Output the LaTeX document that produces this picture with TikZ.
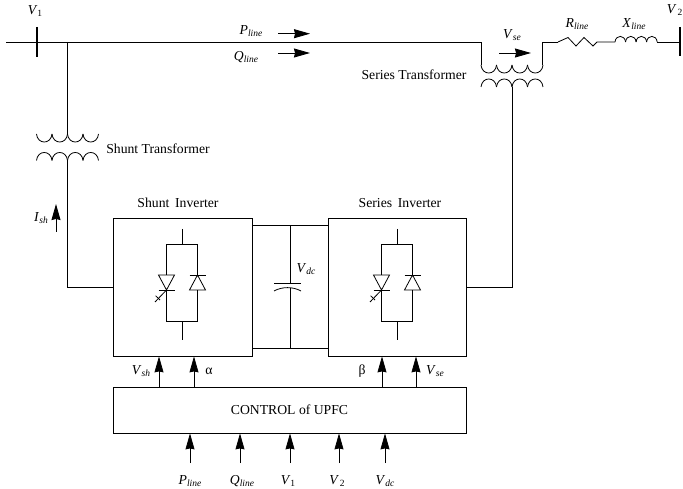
\documentclass[tikz,border=0pt]{standalone}
\usepackage{fontspec}
\setmainfont{Liberation Serif}
\usetikzlibrary{arrows.meta}
\newcommand{\subl}[2]{\textit{#1}\raisebox{-2.5pt}{\fontsize{9.5}{10}\selectfont\itshape #2}}
\begin{document}
\begin{tikzpicture}[
      x=1pt, y=-1pt,
      font=\fontsize{13.7}{15}\selectfont,
      wire/.style={line width=0.8pt},
      busbar/.style={line width=2pt},
      box/.style={draw, line width=0.8pt, inner sep=0pt},
      lbl/.style={inner sep=0pt},
      arr/.style={-{Stealth[length=16pt, width=9pt, inset=1pt]}, line width=0.8pt},
      coil/.pic={
        \foreach \i in {0,1,2,3}
          \draw[wire] (\i*15.5,0) .. controls +(1,10.7) and +(-1,10.7) .. +(15.5,0);
      },
      leg/.pic={
        \draw[wire] (0,-58) -- (0,-43);
        \draw[wire] (-15.5,-12) -- (-15.5,-43) -- (15.5,-43) -- (15.5,-12);
        \draw[wire] (-15.5,3) -- (-15.5,34) -- (15.5,34) -- (15.5,3);
        \draw[wire] (0,34) -- (0,53);
        \draw[wire] (-23.5,-12) -- (-7.5,-12) -- (-15.5,3) -- cycle;
        \draw[wire] (-23.5,3) -- (-7.5,3);
        \draw[wire] (7.5,-12) -- (23.5,-12);
        \draw[wire] (7.5,3) -- (23.5,3) -- (15.5,-12) -- cycle;
        \draw[wire] (-15.5,3) -- (-27,15);
        \draw[wire] (-26.4,8.7) -- (-22,13);
      }]
    \useasboundingbox (0,0) rectangle (683,489);
    % boxes
    \node[box, minimum width=139pt, minimum height=138pt] (shinv) at (182.5,287) {};
    \node[box, minimum width=138pt, minimum height=138pt] (seinv) at (397,287) {};
    \node[box, minimum width=353pt, minimum height=46pt] (ctrl) at (289.5,410) {CONTROL of UPFC};
    \pic at (182,287) {leg};
    \pic at (397,287) {leg};
    % line
    \coordinate (lstart) at (6,42);
    \coordinate (tap) at (67,42);
    \coordinate (sel) at (481,42);
    \coordinate (ser) at (542,42);
    \coordinate (rin) at (558,42);
    \coordinate (xin) at (615,42);
    \coordinate (xout) at (657,42);
    \coordinate (bus2) at (680,42);
    \draw[wire] (lstart) -- (sel) -- (481,65);
    \draw[wire] (542,65) -- (ser) -- (rin);
    \draw[wire] (rin) -- (568,37.5) -- (576,46) -- (584,37.5) -- (593,46) -- (597,42) -- (xin);
    \pic[xscale=0.68, yscale=-0.7] at (xin) {coil};
    \draw[wire] (xout) -- (bus2);
    \draw[busbar] (36.5,27) -- (36.5,57);
    \draw[busbar] (bus2) ++(0,-15) -- ++(0,29);
    % transformers
    \pic at (36.5,134) {coil};
    \pic[yscale=-1] at (36.5,160.5) {coil};
    \pic at (481,65) {coil};
    \pic[yscale=-1] at (481,87) {coil};
    \draw[wire] (tap) -- (67,134);
    \draw[wire] (shinv.west) -- (67,287) -- (67,160.5);
    \draw[wire] (seinv.east) -- (512,287) -- (512,87);
    % dc link
    \draw[wire] (shinv.east |- 0,225.7) -- (seinv.west |- 0,225.7);
    \draw[wire] (shinv.east |- 0,348) -- (seinv.west |- 0,348);
    \draw[wire] (290,225.7) -- (290,283);
    \draw[wire] (274,283) -- (301,283);
    \draw[wire] (274,291) .. controls (282,286.5) and (293,286.5) .. (301,291);
    \draw[wire] (290,288) -- (290,348);
    % arrows
    \draw[arr] (278,33.7) -- (310,33.7);
    \draw[arr] (278,53) -- (310,53);
    \draw[arr] (499,53) -- (531,53);
    \draw[arr] (56,232) -- (56,204);
    \foreach \x in {159,194}
      \draw[arr] (ctrl.north -| \x,0) -- (shinv.south -| \x,0);
    \foreach \x in {382,416}
      \draw[arr] (ctrl.north -| \x,0) -- (seinv.south -| \x,0);
    \foreach \n/\x in {p/190,q/240,va/290,vb/339,vd/385} {
      \coordinate (in\n) at (\x,463);
      \draw[arr] (in\n) -- (ctrl.south -| in\n);
    }
    % labels
    \node[lbl] (vone) at (35,11) {\subl{V}{\upshape 1}};
    \node[lbl, anchor=east] (vtwo) at (682.5,10) {\subl{V\,}{\upshape 2}};
    \node[lbl] (pl) at (251,31) {\subl{P}{line}};
    \node[lbl] (ql) at (246,57) {\subl{Q}{line}};
    \node[lbl] (vs) at (512,35) {\subl{V}{se}};
    \node[lbl] (rl) at (577,24) {\subl{R}{line}};
    \node[lbl] (xl) at (634,24) {\subl{X}{line}};
    \node[lbl] (setr) at (414,75) {Series Transformer};
    \node[lbl] (shtr) at (158,149) {Shunt Transformer};
    \node[lbl] (ish) at (41,218) {\subl{I}{sh}};
    \node[lbl] (shname) at (178,203) {Shunt\, Inverter};
    \node[lbl] (sename) at (400,203) {Series\, Inverter};
    \node[lbl] (vdc) at (306,269) {\subl{V}{dc}};
    \node[lbl] (vsh) at (141,371) {\subl{V}{sh}};
    \node[lbl] (alpha) at (209,371) {α};
    \node[lbl] (beta) at (362,371) {β};
    \node[lbl] (vse) at (435,371) {\subl{V}{se}};
    \node[lbl] (pb) at (190,481) {\subl{P}{line}};
    \node[lbl] (qb) at (242,481) {\subl{Q}{line}};
    \node[lbl] (va) at (288,481) {\subl{V}{\upshape 1}};
    \node[lbl] (vb) at (337,481) {\subl{V\,}{\upshape 2}};
    \node[lbl] (vd) at (385,481) {\subl{V}{dc}};
  \end{tikzpicture}
\end{document}
